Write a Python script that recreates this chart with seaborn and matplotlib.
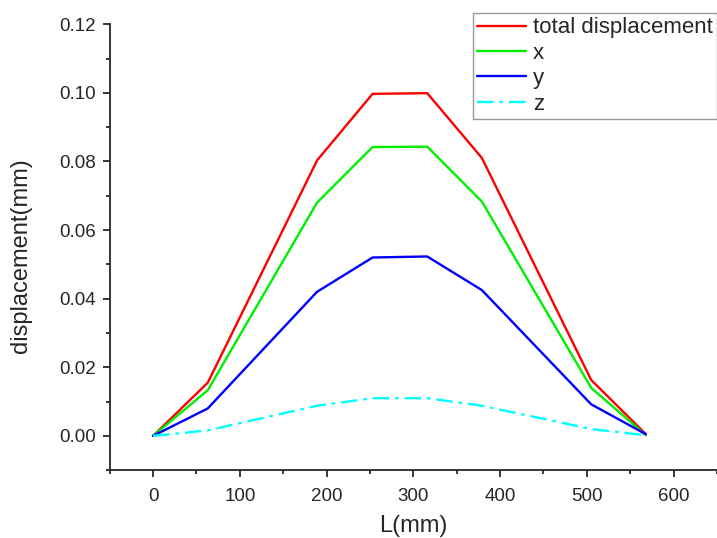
import numpy as np
import pandas as pd

import matplotlib.pyplot as plt
import seaborn as sns
from matplotlib.ticker import MultipleLocator

# datos
L = [0, 63, 189, 253, 316, 379, 505, 568]
total = [0.0, 0.0155, 0.0803, 0.0997, 0.0999, 0.0810, 0.0163, 0.0005]
dx = [0.0, 0.0133, 0.0680, 0.0842, 0.0843, 0.0683, 0.0140, 0.0002]
dy = [0.0, 0.0080, 0.0420, 0.0520, 0.0523, 0.0425, 0.0092, 0.0005]
dz = [0.0, 0.0016, 0.0088, 0.0110, 0.0110, 0.0088, 0.0020, 0.0002]

nombres = ["total displacement", "x", "y", "z"]
colores = ["#ff0000", "#00ee00", "#0000ff", "#00ffff"]

df = pd.DataFrame({
    "L": L * 4,
    "disp": total + dx + dy + dz,
    "serie": np.repeat(nombres, len(L))
})

sns.set_style("ticks")
plt.rcParams["font.family"] = ["Liberation Sans", "DejaVu Sans"]

fig = plt.figure(figsize=(7.17, 5.38), dpi=100)
ax = fig.add_axes([0.153, 0.126, 0.847, 0.829])

sns.lineplot(
    data=df,
    x="L",
    y="disp",
    hue="serie",
    style="serie",
    palette=dict(zip(nombres, colores)),
    dashes={"total displacement": "", "x": "", "y": "", "z": (7, 2.5, 1.5, 2.5)},
    linewidth=1.7,
    ax=ax
)

ax.set_xlim(-50, 650)
ax.set_ylim(-0.01, 0.12)
ax.xaxis.set_major_locator(MultipleLocator(100))
ax.xaxis.set_minor_locator(MultipleLocator(50))
ax.yaxis.set_major_locator(MultipleLocator(0.02))
ax.yaxis.set_minor_locator(MultipleLocator(0.01))
ax.set_yticks(np.arange(0, 0.121, 0.02))
ax.set_yticklabels([f"{v:.2f}" for v in np.arange(0, 0.121, 0.02)])

ax.tick_params(which="major", length=5, width=1.3, labelsize=13.5, direction="out")
ax.tick_params(axis="x", pad=8)
ax.tick_params(axis="y", pad=5)
ax.tick_params(which="minor", length=3, width=1.3, direction="out")
for s in ["left", "bottom"]:
    ax.spines[s].set_linewidth(1.3)
sns.despine(ax=ax)

ax.set_xlabel("L(mm)", fontsize=17)
ax.set_ylabel("displacement(mm)", fontsize=17)
ax.xaxis.set_label_coords(0.5, -0.10)
ax.yaxis.set_label_coords(-0.128, 0.482)

leg = ax.legend(
    loc="upper right",
    bbox_to_anchor=(1.0, 0.976),
    bbox_transform=fig.transFigure,
    fontsize=16,
    frameon=True,
    fancybox=False,
    handlelength=2.2,
    handletextpad=0.3,
    labelspacing=0.2,
    borderpad=0.2,
    borderaxespad=0
)
leg.get_frame().set_edgecolor("#808080")
leg.get_frame().set_linewidth(1.0)

plt.savefig("out.png", dpi=100)
